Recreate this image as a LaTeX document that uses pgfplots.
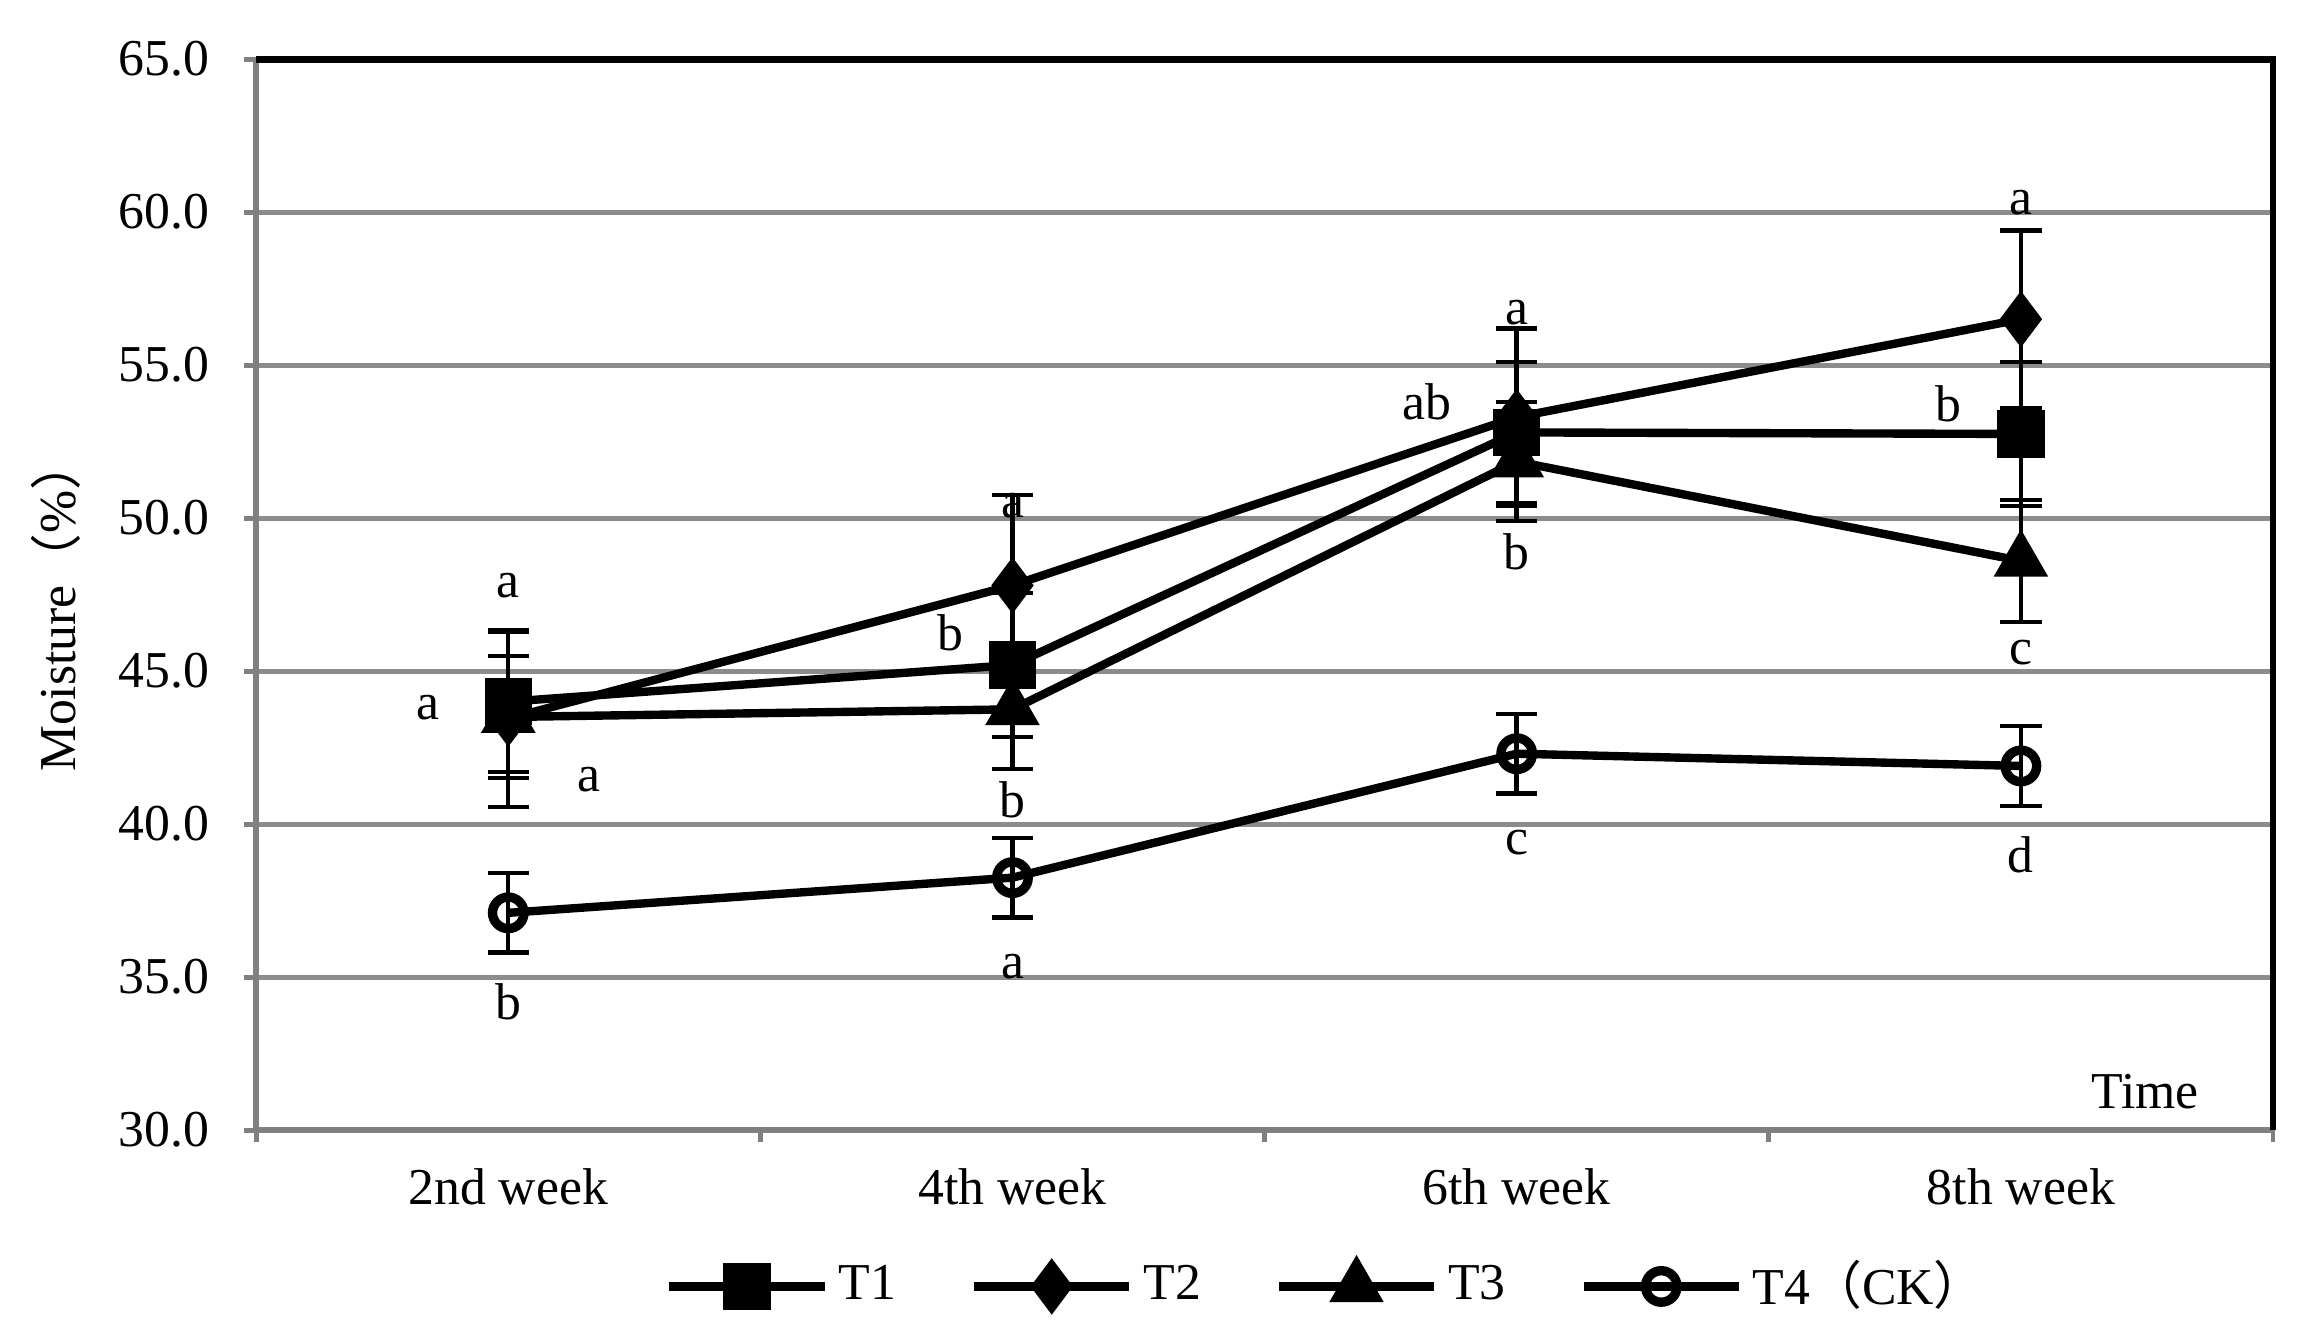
\documentclass[border=0pt]{standalone}
\usepackage{fontspec}
\setmainfont{Liberation Serif}
\newfontfamily\cjk{Noto Sans CJK SC}
\usepackage{pgfplots}
\pgfplotsset{compat=1.18}
\definecolor{gridgray}{RGB}{140,140,140}
\definecolor{axgray}{RGB}{128,128,128}
\begin{document}
\begin{tikzpicture}
\begin{axis}[
  at={(0,0)}, anchor=south west, scale only axis,
  width=409.4pt, height=217.4pt,
  xmin=0, xmax=4, ymin=30, ymax=65,
  axis x line*=bottom, axis y line*=left,
  axis line style={draw=axgray, line width=1.2pt, -},
  tick align=outside, major tick length=2.5pt,
  tick style={draw=axgray, line width=1pt},
  ytick={30,35,...,65},
  yticklabel style={xshift=-3.5pt, /pgf/number format/.cd, fixed, fixed zerofill, precision=1},
  /pgf/number format/assume math mode=true,
  xtick={0.5,1.5,2.5,3.5},
  xticklabels={2nd week,4th week,6th week,8th week},
  xticklabel style={yshift=-1.8pt},
  xtick style={draw=none},
  extra x ticks={0,1,2,3,4},
  extra x tick labels={},
  extra x tick style={xtick style={draw=axgray, line width=1pt}},
  ymajorgrids, grid style={draw=gridgray, line width=1pt},
  tick label style={font=\fontsize{10.5}{12}\selectfont},
  ylabel={Moisture{\cjk （}\%{\cjk ）}},
  every axis y label/.style={at={(rel axis cs:0,0.49)}, xshift=-40.6pt, rotate=90, anchor=center,
    font=\fontsize{10.5}{12}\selectfont},
  error bars/error bar style={line width=0.9pt},
  error bars/error mark options={rotate=90, mark size=4.2pt, line width=0.9pt},
  legend image code/.code={\draw[mark repeat=2, mark phase=2, #1] plot coordinates {(0pt,0pt) (15.75pt,0pt) (31.5pt,0pt)};},
  legend style={at={(0.195,-0.146)}, anchor=west, draw=none, fill=none,
    legend columns=-1, font=\fontsize{10.5}{12}\selectfont,
    /tikz/every even column/.append style={column sep=13pt}},
  clip=false,
]
\addplot[black, line width=1.7pt, mark=square*, mark size=4.6pt, mark options={solid, fill=black, line width=0.4pt},
  error bars/.cd, y dir=both, y explicit]
  coordinates {(0.5,44.0) +- (0,2.3) (1.5,45.2) +- (0,2.35) (2.5,52.8) +- (0,2.3) (3.5,52.75) +- (0,2.35)};
\addlegendentry{T1}
\addplot[black, line width=1.7pt, mark=diamond*, mark size=5.4pt, mark options={solid, fill=black, line width=0.4pt},
  error bars/.cd, y dir=both, y explicit]
  coordinates {(0.5,43.45) +- (0,2.9) (1.5,47.8) +- (0,2.95) (2.5,53.3) +- (0,2.9) (3.5,56.5) +- (0,2.9)};
\addlegendentry{T2}
\addplot[black, line width=1.7pt, mark=triangle*, mark size=6pt, mark options={solid, fill=black, line width=0.4pt},
  error bars/.cd, y dir=both, y explicit]
  coordinates {(0.5,43.5) +- (0,2.0) (1.5,43.75) +- (0,1.95) (2.5,51.85) +- (0,1.95) (3.5,48.6) +- (0,2.0)};
\addlegendentry{T3}
\addplot[black, line width=1.7pt, mark=o, mark size=3.2pt, mark options={solid, line width=1.9pt},
  error bars/.cd, y dir=both, y explicit]
  coordinates {(0.5,37.1) +- (0,1.3) (1.5,38.25) +- (0,1.3) (2.5,42.3) +- (0,1.3) (3.5,41.9) +- (0,1.3)};
\addlegendentry{T4{\cjk （}CK{\cjk ）}}
\begin{scope}[every node/.style={font=\fontsize{10.5}{12}\selectfont, inner sep=0pt}]
\node at (axis cs:0.5,47.8) {a};
\node at (axis cs:0.34,43.8) {a};
\node at (axis cs:0.66,41.45) {a};
\node at (axis cs:0.5,34.2) {b};
\node at (axis cs:1.5,50.4) {a};
\node at (axis cs:1.377,46.25) {b};
\node at (axis cs:1.5,40.8) {b};
\node at (axis cs:1.5,35.35) {a};
\node at (axis cs:2.5,56.7) {a};
\node at (axis cs:2.322,53.8) {ab};
\node at (axis cs:2.5,48.9) {b};
\node at (axis cs:2.5,39.4) {c};
\node at (axis cs:3.5,60.3) {a};
\node at (axis cs:3.357,53.75) {b};
\node at (axis cs:3.5,45.6) {c};
\node at (axis cs:3.5,39.0) {d};
\node at (rel axis cs:0.9365,0.0355) {Time};
\end{scope}
\draw[black, line width=1.4pt] (rel axis cs:0,1) -- (rel axis cs:1,1) -- (rel axis cs:1,0);
\end{axis}
\pgfresetboundingbox
\useasboundingbox (-52.0pt,-40.4pt) rectangle (416.1pt,229.4pt);
\end{tikzpicture}
\end{document}
